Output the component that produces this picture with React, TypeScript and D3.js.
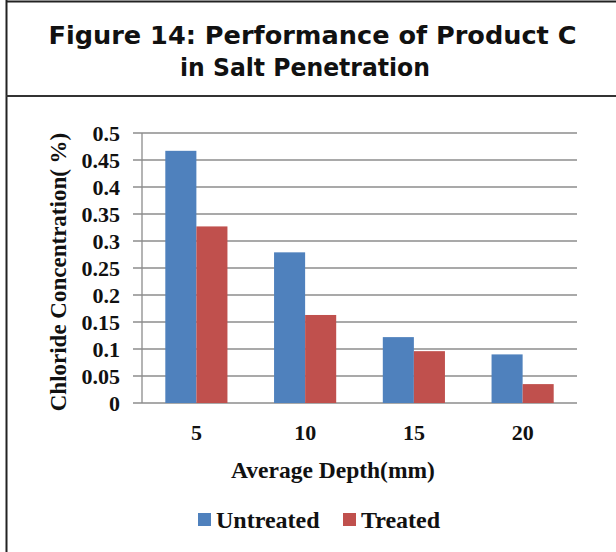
import React from "react";
import * as d3 from "d3";

const categories = ["5", "10", "15", "20"];
const seriesNames = ["Untreated", "Treated"];
const untreated = [0.467, 0.279, 0.122, 0.09];
const treated = [0.327, 0.163, 0.096, 0.035];
const yTicks = [0, 0.05, 0.1, 0.15, 0.2, 0.25, 0.3, 0.35, 0.4, 0.45, 0.5];
const colors = ["#4f81bd", "#c0504d"];

export default function App() {
  const W = 616, H = 552;
  const x0 = 142, x1 = 577, yTop = 133, yBot = 403;
  const x = d3.scaleBand<string>().domain(categories).range([x0, x1]).paddingInner(150 / 350).paddingOuter(75 / 350);
  const xs = d3.scaleBand<string>().domain(seriesNames).range([0, x.bandwidth()]);
  const y = d3.scaleLinear().domain([0, 0.5]).range([yBot, yTop]);
  const serif = "'Liberation Serif', 'Times New Roman', serif";
  const series = [untreated, treated];
  return (
    <svg width={W} height={H} style={{ position: "absolute", left: 0, top: 0, background: "#fff" }}>
      <rect x={0} y={0} width={W} height={H} fill="#fff" />
      {/* frame */}
      <line x1={6.5} y1={0} x2={6.5} y2={H} stroke="#222" strokeWidth={2} />
      <line x1={6} y1={1.5} x2={W} y2={1.5} stroke="#222" strokeWidth={2} />
      <line x1={6} y1={96} x2={W} y2={96} stroke="#333" strokeWidth={2} />
      <text x={312.5} y={44} textAnchor="middle" textLength={528} lengthAdjust="spacingAndGlyphs" fontFamily="'DejaVu Sans', Verdana, sans-serif" fontWeight="bold" fontSize={25.5} fill="#111">
        Figure 14: Performance of Product C
      </text>
      <text x={305} y={76} textAnchor="middle" textLength={250} lengthAdjust="spacingAndGlyphs" fontFamily="'DejaVu Sans', Verdana, sans-serif" fontWeight="bold" fontSize={25.5} fill="#111">
        in Salt Penetration
      </text>
      {/* grid */}
      {yTicks.map((t) => (
        <line key={"g" + t} x1={x0 - 9} x2={x1} y1={y(t)} y2={y(t)} stroke="#8c8c8c" strokeWidth={1.3} />
      ))}
      {/* bars */}
      {categories.map((c, i) =>
        series.map((s, j) => (
          <rect key={c + j} x={(x(c) as number) + (xs(seriesNames[j]) as number)} y={y(s[i])} width={xs.bandwidth()} height={yBot - y(s[i])} fill={colors[j]} />
        ))
      )}
      <line x1={x0} x2={x0} y1={yTop} y2={yBot} stroke="#8c8c8c" strokeWidth={1.3} />
      {/* y tick labels */}
      {yTicks.map((t) => (
        <text key={"t" + t} x={120} y={y(t)} dy="0.35em" textAnchor="end" fontFamily={serif} fontWeight="bold" fontSize={22} fill="#111">
          {String(t)}
        </text>
      ))}
      {/* x tick labels */}
      {categories.map((c) => (
        <text key={"x" + c} x={(x(c) as number) + x.bandwidth() / 2} y={432} dy="0.35em" textAnchor="middle" fontFamily={serif} fontWeight="bold" fontSize={22} fill="#111">
          {c}
        </text>
      ))}
      <text transform={`translate(58,${(yTop + yBot) / 2 + 4}) rotate(-90)`} textAnchor="middle" dy="0.35em" fontFamily={serif} fontWeight="bold" fontSize={23} fill="#111">
        Chloride Concentration( %)
      </text>
      <text x={333} y={470} dy="0.35em" textAnchor="middle" fontFamily={serif} fontWeight="bold" fontSize={23.5} fill="#111">
        Average Depth(mm)
      </text>
      {/* legend */}
      <rect x={198} y={513} width={13} height={13} fill={colors[0]} />
      <text x={216} y={520} dy="0.35em" fontFamily={serif} fontWeight="bold" fontSize={24} fill="#111">Untreated</text>
      <rect x={343} y={513} width={13} height={13} fill={colors[1]} />
      <text x={361} y={520} dy="0.35em" fontFamily={serif} fontWeight="bold" fontSize={24} fill="#111">Treated</text>
    </svg>
  );
}
